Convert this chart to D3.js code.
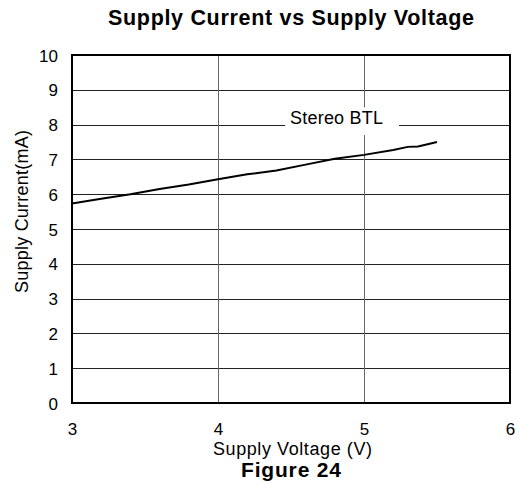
<!DOCTYPE html>
<html>
<head>
<meta charset="utf-8">
<script src="https://cdn.jsdelivr.net/npm/d3@7"></script>
<style>
  body { margin: 0; background: #fff; }
  text { font-family: "Liberation Sans", Arial, sans-serif; fill: #000; }
</style>
</head>
<body>
<div id="chart"></div>
<script>
var width = 519, height = 487;

// values
var voltage = [3.0, 3.2, 3.4, 3.6, 3.8, 4.0, 4.2, 4.4, 4.6, 4.8, 5.0, 5.2, 5.3, 5.37, 5.45, 5.5];
var current = [5.73, 5.87, 6.0, 6.15, 6.28, 6.43, 6.57, 6.68, 6.85, 7.02, 7.13, 7.27, 7.36, 7.37, 7.45, 7.5];
var xTicks = [3, 4, 5, 6];
var yTicks = [0, 1, 2, 3, 4, 5, 6, 7, 8, 9, 10];
var seriesName = 'Stereo BTL';

var margin = {top: 55, right: 9, bottom: 84, left: 72};
var w = width - margin.left - margin.right,
    h = height - margin.top - margin.bottom;

var svg = d3.select('#chart').append('svg')
  .attr('width', width)
  .attr('height', height);

var x = d3.scaleLinear().domain([3, 6]).range([margin.left, margin.left + w]);
var y = d3.scaleLinear().domain([0, 10]).range([margin.top + h, margin.top]);

// grid
svg.append('g').selectAll('line')
  .data(yTicks.slice(1, -1))
  .enter().append('line')
  .attr('x1', x(3)).attr('x2', x(6))
  .attr('y1', d => Math.round(y(d)) + 0.5).attr('y2', d => Math.round(y(d)) + 0.5)
  .attr('stroke', '#222').attr('stroke-width', 1.2);

svg.append('g').selectAll('line')
  .data(xTicks.slice(1, -1))
  .enter().append('line')
  .attr('y1', y(0)).attr('y2', y(10))
  .attr('x1', d => Math.round(x(d)) + 0.5).attr('x2', d => Math.round(x(d)) + 0.5)
  .attr('stroke', '#666').attr('stroke-width', 1);

// label box hides the grid behind the series name
svg.append('rect')
  .attr('x', x(4.46)).attr('y', y(8.5))
  .attr('width', x(5.24) - x(4.46)).attr('height', y(7.7) - y(8.5))
  .attr('fill', '#fff');

svg.append('text')
  .attr('x', 290).attr('y', 124)
  .style('font-size', '18px')
  .attr('textLength', 93).attr('lengthAdjust', 'spacing')
  .text(seriesName);

// frame
svg.append('rect')
  .attr('x', x(3)).attr('y', y(10))
  .attr('width', x(6) - x(3)).attr('height', y(0) - y(10))
  .attr('fill', 'none').attr('stroke', '#000').attr('stroke-width', 2);

// curve
var line = d3.line()
  .x((d, i) => x(voltage[i]))
  .y(d => y(d));

svg.append('path')
  .datum(current)
  .attr('d', line)
  .attr('fill', 'none')
  .attr('stroke', '#000')
  .attr('stroke-width', 2);

// axes (labels only, frame drawn above)
var xAxis = svg.append('g')
  .attr('transform', 'translate(0,' + (y(0) + 20) + ')')
  .call(d3.axisBottom(x).tickValues(xTicks).tickSize(0).tickFormat(d3.format('d')));
xAxis.select('.domain').remove();
xAxis.selectAll('text').style('font-size', '17px').attr('y', 0).attr('dy', '0.71em');

var yAxis = svg.append('g')
  .attr('transform', 'translate(' + (x(3) - 14) + ',0)')
  .call(d3.axisLeft(y).tickValues(yTicks).tickSize(0).tickFormat(d3.format('d')));
yAxis.select('.domain').remove();
yAxis.selectAll('text').style('font-size', '17px').attr('x', 0).attr('dy', '0.36em');

// titles
svg.append('text')
  .attr('x', 108).attr('y', 25)
  .style('font-size', '21.5px').style('font-weight', 'bold')
  .attr('textLength', 366).attr('lengthAdjust', 'spacing')
  .text('Supply Current vs Supply Voltage');

svg.append('text')
  .attr('x', 213).attr('y', 455)
  .style('font-size', '18px')
  .attr('textLength', 159).attr('lengthAdjust', 'spacing')
  .text('Supply Voltage (V)');

svg.append('text')
  .attr('x', 241).attr('y', 477)
  .style('font-size', '21px').style('font-weight', 'bold')
  .attr('textLength', 100).attr('lengthAdjust', 'spacing')
  .text('Figure 24');

svg.append('text')
  .attr('transform', 'translate(28,293) rotate(-90)')
  .style('font-size', '18px')
  .attr('textLength', 163).attr('lengthAdjust', 'spacing')
  .text('Supply Current(mA)');
</script>
</body>
</html>
